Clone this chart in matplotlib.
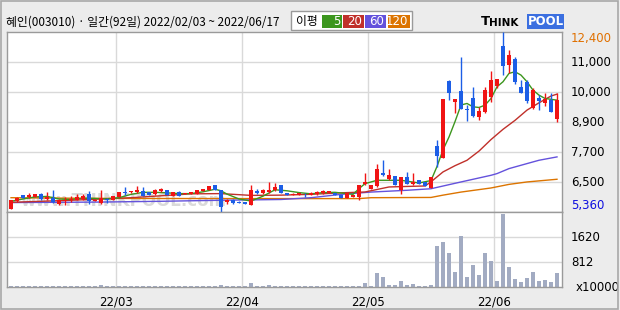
import matplotlib
matplotlib.use("Agg")
import matplotlib.pyplot as plt
from matplotlib.patches import Rectangle
import numpy as np

# ---------------- data ----------------
title = "혜인(003010) · 일간(92일) 2022/02/03 ~ 2022/06/17"
month_labels = ["22/03", "22/04", "22/05", "22/06"]
month_idx = [18, 39, 60, 81]

opens = [5503, 5790, 6025, 5959, 5959, 6090, 5894, 5920, 5699, 5803,
         5829, 5855, 5894, 6077, 5803, 5725, 5894, 5855, 5959, 6155,
         6142, 6142, 6181, 6155, 6064, 6194, 6220, 6012, 6168, 6064,
         6077, 6090, 6194, 6246, 6416, 6246, 5751, 5855, 5777, 5764,
         5660, 6194, 6116, 6155, 6220, 6416, 6116, 6038, 6051, 6090,
         6037, 6063, 6115, 6115, 6115, 6024, 5920, 5959, 5959, 6454,
         6285, 6389, 6898, 6650, 6767, 6246, 6728, 6454, 6611, 6545,
         6323, 7940, 7484, 10483, 9674, 10091, 9387, 9805, 9087, 9283,
         9844, 10287, 11852, 11122, 11343, 10248, 10431, 9413, 9831, 9609,
         9739, 8996]
highs = [5829, 5960, 6040, 6116, 6080, 6116, 6155, 6220, 5894, 5959,
         5986, 6090, 6090, 6194, 5870, 6220, 5900, 5986, 6142, 6351,
         6210, 6390, 6351, 6170, 6259, 6325, 6230, 6155, 6180, 6129,
         6142, 6220, 6285, 6390, 6430, 6246, 5894, 5894, 5790, 5770,
         6416, 6259, 6285, 6546, 6507, 6420, 6120, 6095, 6110, 6115,
         6140, 6175, 6220, 6200, 6120, 6030, 6120, 6030, 6440, 6898,
         6420, 7237, 7393, 7041, 6780, 6741, 6937, 6898, 6620, 6550,
         6745, 8200, 9779, 10522, 9779, 11435, 9544, 10235, 9479, 10261,
         10874, 10561, 12400, 11695, 11435, 10522, 10522, 10196, 9935, 10026,
         10026, 10026]
lows = [5503, 5780, 5920, 5920, 5950, 5855, 5855, 5738, 5660, 5660,
        5764, 5829, 5829, 5699, 5790, 5699, 5725, 5850, 5950, 6051,
        6130, 6116, 5986, 6025, 6051, 6155, 6025, 6000, 6012, 6060,
        6070, 6085, 6190, 6240, 6246, 5360, 5699, 5699, 5725, 5673,
        5634, 6090, 6090, 6116, 6194, 6116, 6025, 6030, 6045, 5959,
        6030, 6055, 6063, 6110, 6024, 5933, 5915, 5955, 5855, 6420,
        6280, 6350, 6780, 6611, 6415, 6063, 6454, 6415, 6454, 6375,
        6320, 7130, 7484, 9740, 9244, 9374, 8931, 9087, 8957, 9218,
        9674, 10222, 10717, 10783, 10352, 10000, 9609, 9374, 9348, 9505,
        9283, 8891]
closes = [5829, 5933, 5933, 6051, 6064, 5881, 5959, 5764, 5855, 5855,
          5894, 5959, 5986, 5803, 5855, 5920, 5855, 5986, 6142, 6116,
          6194, 6246, 5999, 6025, 6220, 6259, 6025, 6155, 6012, 6129,
          6142, 6220, 6285, 6390, 6246, 5568, 5855, 5725, 5738, 5673,
          6220, 6129, 6246, 6246, 6351, 6116, 6025, 6090, 6103, 6064,
          6128, 6167, 6194, 6194, 6024, 5933, 6115, 6024, 6415, 6546,
          6415, 7041, 6807, 6807, 6415, 6741, 6454, 6546, 6454, 6375,
          6740, 7549, 9779, 10026, 9779, 9387, 9373, 9113, 9309, 10131,
          10522, 10561, 11083, 11500, 10457, 10026, 9700, 10131, 9700, 9779,
          9283, 9739]
volume = [35, 35, 35, 35, 35, 35, 35, 43, 35, 35,
          35, 35, 35, 35, 35, 76, 35, 35, 43, 43,
          35, 43, 43, 35, 43, 35, 35, 35, 35, 35,
          35, 35, 35, 35, 35, 76, 43, 35, 35, 35,
          141, 35, 35, 76, 35, 35, 35, 35, 35, 35,
          35, 35, 35, 35, 35, 35, 35, 35, 54, 150,
          54, 477, 347, 87, 87, 217, 87, 119, 54, 54,
          87, 1354, 1484, 1126, 509, 1679, 347, 736, 412, 1126,
          866, 217, 2380, 671, 282, 184, 314, 509, 217, 249,
          184, 477]

# moving averages (index, value)
ma5_idx = [0, 2, 4, 6, 8, 10, 12, 14, 16, 18, 20, 22, 24, 26, 28, 30, 32, 34, 35, 36,
           38, 40, 42, 44, 46, 48, 50, 52, 54, 56, 57, 58, 59, 61, 63, 65, 67, 68, 70,
           71, 72, 73, 74, 75, 76, 77, 78, 79, 80, 81, 82, 83, 84, 85, 86, 87, 88, 89, 91]
ma5_val = [5790, 5880, 5960, 5980, 5880, 5860, 5910, 5900, 5880, 5930, 6060, 6140, 6140,
           6120, 6090, 6090, 6160, 6260, 6200, 6070, 5880, 5800, 5990, 6240, 6200, 6130,
           6080, 6130, 6140, 6090, 6060, 6284, 6479, 6610, 6610, 6610, 6540, 6505, 6600,
           7150, 7800, 8300, 8900, 9550, 9609, 9479, 9453, 9544, 9805, 10261, 10457,
           10783, 10848, 10717, 10457, 10131, 9935, 9805, 9739]
ma20_idx = [0, 10, 20, 30, 35, 40, 45, 50, 55, 59, 63, 66, 69, 70, 72, 74, 76, 78, 80,
            82, 84, 86, 88, 90, 91]
ma20_val = [5750, 5830, 5930, 6080, 6090, 6020, 6030, 6062, 6120, 6153, 6349, 6370,
            6388, 6550, 6936, 7180, 7392, 7750, 8200, 8600, 8950, 9350, 9635, 9900, 9974]
ma60_idx = [0, 15, 25, 35, 45, 50, 55, 60, 66, 70, 75, 80, 81, 83, 86, 88, 91]
ma60_val = [5740, 5760, 5790, 5830, 5860, 5930, 6060, 6150, 6220, 6280, 6545, 6805,
            6871, 7066, 7262, 7392, 7523]
ma120_idx = [0, 10, 20, 40, 58, 60, 70, 72, 75, 80, 83, 86, 91]
ma120_val = [5930, 5910, 5900, 5895, 5895, 5930, 5940, 6030, 6150, 6310, 6450, 6545, 6650]

price_top, price_bot = 12400, 5360
price_grid_labels = ["11,000", "10,000", "8,900", "7,700", "6,500"]
vol_top = 2436
vol_grid = [812, 1624]
vol_grid_labels = ["812", "1620"]
ma_labels = ["5", "20", "60", "120"]

# ---------------- styles ----------------
C_UP = "#f01414"
C_DN = "#1c5ee6"
C_MA = ["#3c961e", "#c0302a", "#6452dc", "#dc7400"]
C_GRID = "#d9d9d9"
C_FRAME = "#9a9a9a"
C_BG = "#ececec"
C_VOL = "#a2abc2"

W, H = 620, 310
fig = plt.figure(figsize=(W / 100, H / 100), dpi=100, facecolor=C_BG)
plt.rcParams['font.family'] = ['Noto Sans CJK KR', 'DejaVu Sans']

def fx(px):
    return px / W

def fy(py):
    return 1 - py / H

L, R = 7, 561.5
T, M, B = 32, 212.3, 287.3
ax = fig.add_axes([fx(L), fy(M), fx(R - L), fy(T) - fy(M)])
axv = fig.add_axes([fx(L), fy(B), fx(R - L), fy(M) - fy(B)])

n = len(closes)
x = np.arange(n)
xmin, xmax = -0.67, 91.75
for a in (ax, axv):
    a.set_xlim(xmin, xmax)
    a.set_facecolor("white")
    a.set_xticks([])
    a.set_yticks([])
    for s in a.spines.values():
        s.set_color(C_FRAME)
        s.set_linewidth(1.0)
    for mi in month_idx:
        a.axvline(mi - 0.5, color=C_GRID, lw=1.0, zorder=0)

ax.set_ylim(price_bot, price_top)
step = (price_top - price_bot) / 6
for k in range(1, 6):
    ax.axhline(price_bot + k * step, color=C_GRID, lw=1.0, zorder=0)

axv.set_ylim(0, vol_top)
for v in vol_grid:
    axv.axhline(v, color=C_GRID, lw=1.0, zorder=0)

# watermark
ax.text(0.025, 0.015, "www.THINKPOOL.com", transform=ax.transAxes, fontsize=12,
        color="#dadada", fontweight="bold", family="DejaVu Sans", ha="left", va="bottom",
        zorder=1)

# moving averages
for idxs, vals, c in zip([ma120_idx, ma60_idx, ma20_idx, ma5_idx],
                         [ma120_val, ma60_val, ma20_val, ma5_val],
                         [C_MA[3], C_MA[2], C_MA[1], C_MA[0]]):
    ax.plot(idxs, vals, color=c, lw=1.0, zorder=2)

# candles
o = np.array(opens); h = np.array(highs); l = np.array(lows); c = np.array(closes)
up = c >= o
cols = np.where(up, C_UP, C_DN)
ax.vlines(x, l, h, colors=cols, lw=1.0, zorder=3)
body_lo = np.minimum(o, c)
body_h = np.maximum(np.abs(c - o), 25)
ax.bar(x, body_h, bottom=body_lo, width=0.72, color=cols, edgecolor=cols, lw=0, zorder=4)

# volume
axv.bar(x, volume, width=0.8, color=C_VOL, lw=0, zorder=2)

# right axis labels
lx = (571 - L) / (R - L)
ax.text(lx, price_top, "12,400", transform=ax.get_yaxis_transform(), fontsize=8.5,
        color="#e07000", ha="left", va="top", family="DejaVu Sans")
for k, lab in zip([5, 4, 3, 2, 1], price_grid_labels):
    ax.text(lx, price_bot + k * step, lab, transform=ax.get_yaxis_transform(), fontsize=8.5,
            color="black", ha="left", va="center", family="DejaVu Sans")
ax.text(lx, price_bot, "5,360", transform=ax.get_yaxis_transform(), fontsize=8.5,
        color="#1010e0", ha="left", va="bottom", family="DejaVu Sans")
for v, lab in zip(vol_grid, vol_grid_labels):
    axv.text(lx, v, lab, transform=axv.get_yaxis_transform(), fontsize=8.5,
             color="black", ha="left", va="center", family="DejaVu Sans")
axv.text((576 - L) / (R - L), 0, "x10000", transform=axv.get_yaxis_transform(), fontsize=8.5,
         color="black", ha="left", va="center", family="DejaVu Sans")

# month labels
for mi, lab in zip(month_idx, month_labels):
    axv.text(mi - 0.5, -0.19, lab, transform=axv.get_xaxis_transform(), fontsize=8.5,
             ha="center", va="center", family="DejaVu Sans", color="black")

# title
fig.text(fx(6), fy(22), title, fontsize=8.5, ha="left", va="center", color="black")

# legend box
fig.patches.append(Rectangle((fx(291), fy(29.5)), fx(121), fy(11.5) - fy(29.5),
                             transform=fig.transFigure, facecolor="white",
                             edgecolor=C_FRAME, lw=1.0))
fig.text(fx(296), fy(21), "이평", fontsize=8.5, ha="left", va="center")
box_x = [322, 343, 365, 388]
box_w = [20, 21, 21, 22]
for bx, bw, lab, cc in zip(box_x, box_w, ma_labels, C_MA):
    fig.patches.append(Rectangle((fx(bx), fy(27.5)), fx(bw), fy(15) - fy(27.5),
                                 transform=fig.transFigure, facecolor=cc, lw=0))
    fig.text(fx(bx + bw - 1.5), fy(21.5), lab, fontsize=8.5, color="white",
             ha="right", va="center", family="DejaVu Sans")

# logo
fig.text(fx(481), fy(21.5), "T", fontsize=9.5, fontweight="bold", color="black",
         ha="left", va="center", family="DejaVu Sans")
fig.text(fx(489), fy(22.5), "HINK", fontsize=7.5, fontweight="bold", color="black",
         ha="left", va="center", family="DejaVu Sans")
fig.patches.append(Rectangle((fx(527), fy(28.5)), fx(37), fy(14) - fy(28.5),
                             transform=fig.transFigure, facecolor="#3b6fe0", lw=0))
fig.text(fx(545.5), fy(21.5), "POOL", fontsize=8.5, fontweight="bold", color="white",
         ha="center", va="center", family="DejaVu Sans")

# outer frame
fig.patches.append(Rectangle((0.001, 0.002), 0.996, 0.995, transform=fig.transFigure,
                             facecolor="none", edgecolor="#a8a8a8", lw=1.2))

fig.savefig("out.png", dpi=100, facecolor=C_BG)
